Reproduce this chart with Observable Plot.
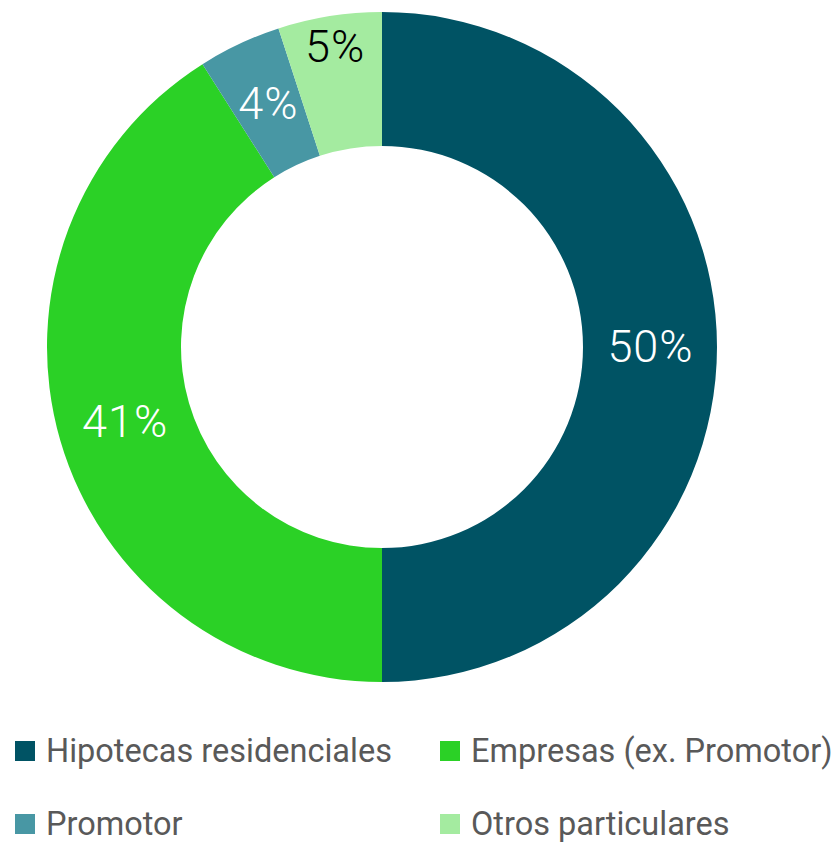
<!DOCTYPE html>
<html><head><meta charset="utf-8">
<script src="https://cdn.jsdelivr.net/npm/d3@7"></script>
<script src="https://cdn.jsdelivr.net/npm/@observablehq/plot@0.6"></script>
<style>
body{margin:0;background:#fff;overflow:hidden}
#chart{position:relative;width:838px;height:843px;}
#legend{position:absolute;left:0;top:700px;width:838px;font-family:Roboto,"Liberation Sans",sans-serif;font-size:32.5px;color:#595959;}
.item{position:absolute;display:flex;align-items:center;white-space:nowrap;height:32px;line-height:32px}
.sw{width:20px;height:20px;margin-right:11px;display:inline-block}
</style></head>
<body><div id="chart"></div>
<script>
const categories = ["Hipotecas residenciales","Empresas (ex. Promotor)","Promotor","Otros particulares"];
const values = [50, 41, 4, 5];
const labels = ["50%","41%","4%","5%"];
const colors = ["#005364","#2BD126","#4897A4","#A4EBA0"];
const labelColors = ["#ffffff","#ffffff","#ffffff","#000000"];

const data = categories.map((c,i)=>({category:c,value:values[i],label:labels[i]}));
const total = d3.sum(values);
let acc = 0;
for (const d of data){ d.start = acc/total*2*Math.PI; acc += d.value; d.end = acc/total*2*Math.PI; d.mid=(d.start+d.end)/2; }
const inner = 0.6;
const labelR = {"Otros particulares":0.905};
for (const d of data){ const r = labelR[d.category] ?? (1+inner)/2; d.lx = r*Math.sin(d.mid); d.ly = r*Math.cos(d.mid); }

function arcs(index, scales, values, dims){
  const cx = scales.x(0), cy = scales.y(0), R = scales.x(1)-scales.x(0);
  const g = d3.create("svg:g").attr("transform",`translate(${cx},${cy})`);
  const arc = d3.arc().innerRadius(R*inner).outerRadius(R);
  g.selectAll("path").data(data).join("path")
    .attr("d", d=>arc({startAngle:d.start,endAngle:d.end}))
    .attr("fill", d=>scales.color(d.category));
  return g.node();
}

const chart = Plot.plot({
  width: 838, height: 700,
  margin: 0,
  x: {domain:[-382/335, 456/335], axis:null},
  y: {domain:[-(700-347)/335, 347/335], axis:null},
  color: {domain: categories, range: colors},
  style: {background:"transparent"},
  marks: [
    arcs,
    Plot.text(data, {x:"lx", y:"ly", text:"label", fill:(d,i)=>labelColors[i],
      fontSize:45, fontWeight:300, fontFamily:"Roboto, 'DejaVu Sans', sans-serif"})
  ]
});
chart.querySelectorAll("text").forEach(t=>t.setAttribute("letter-spacing","1"));
document.getElementById("chart").appendChild(chart);

const legend = document.createElement("div"); legend.id="legend";
const pos = [[15,35],[440,35],[15,108],[440,108]];
categories.forEach((c,i)=>{
  const it = document.createElement("div"); it.className="item";
  it.style.left=pos[i][0]+"px"; it.style.top=pos[i][1]+"px";
  it.innerHTML = `<span class="sw" style="background:${colors[i]}"></span><span>${c}</span>`;
  legend.appendChild(it);
});
document.getElementById("chart").appendChild(legend);
</script></body></html>
